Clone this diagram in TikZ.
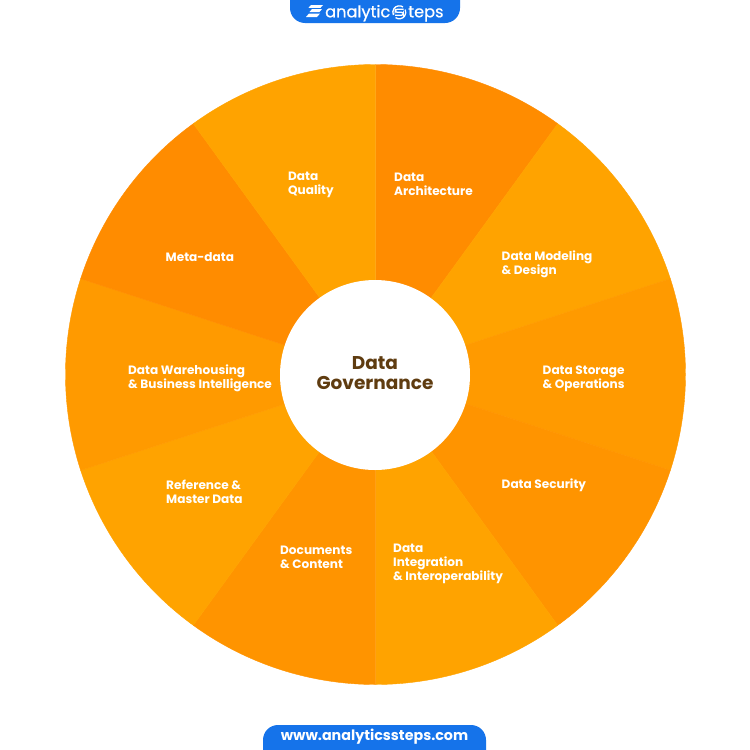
\documentclass[tikz,border=0pt]{standalone}
\usepackage{fontspec}
\setmainfont{Poppins}
\definecolor{oa}{HTML}{FF8C00}
\definecolor{od}{HTML}{FF9400}
\definecolor{ob}{HTML}{FFA300}
\definecolor{oc}{HTML}{FF9A00}
\definecolor{brownt}{HTML}{5F3C10}
\definecolor{blueb}{HTML}{1573EA}
\tikzset{
  seglabel/.style={text=white,font=\fontsize{12.1}{14}\selectfont\bfseries,inner sep=0pt,anchor=west},
  logotext/.style={text=white,font=\fontsize{16.2}{17}\selectfont\addfontfeature{FakeBold=0.7},inner sep=0pt,anchor=base west},
}
\newcommand{\wedgeat}[3]{\filldraw[fill=#3,draw=#3,line width=0.4pt] (375.5,-374.5) -- ++(#1:310) arc[start angle=#1,end angle=#2,radius=310] -- cycle;}
\begin{document}
\begin{tikzpicture}[x=1pt,y=1pt]
\useasboundingbox (0,-750) rectangle (750,0);
\fill[white] (0,-750) rectangle (750,0);
\wedgeat{54}{90}{oa}
\wedgeat{18}{54}{ob}
\wedgeat{-18}{18}{oc}
\wedgeat{-54}{-18}{od}
\wedgeat{-90}{-54}{ob}
\wedgeat{-126}{-90}{od}
\wedgeat{-162}{-126}{ob}
\wedgeat{-198}{-162}{oc}
\wedgeat{-234}{-198}{oa}
\wedgeat{-270}{-234}{ob}
\node[circle,fill=white,minimum size=190pt,inner sep=0pt] (hub) at (375,-375) {};
\node[inner sep=0pt,align=center,text=brownt,font=\fontsize{18.5}{19.5}\selectfont\bfseries] (hubtext) at (375,-373) {Data\\Governance};
\node[seglabel,align=left] (a1) at (394,-184.5) {Data\\Architecture};
\node[seglabel,align=left] (a2) at (501.5,-264.5) {Data Modeling\\\& Design};
\node[seglabel,align=left] (a3) at (542.5,-378.5) {Data Storage\\\& Operations};
\node[seglabel,align=left] (a4) at (501.5,-485) {Data Security};
\node[seglabel,align=left] (a5) at (393,-564) {Data\\Integration\\\& Interoperability};
\node[seglabel,align=left] (a6) at (280,-557.5) {Documents\\\& Content};
\node[seglabel,align=left] (a7) at (166,-492) {Reference \&\\Master Data};
\node[seglabel,align=left] (a8) at (128,-378.5) {Data Warehousing\\\& Business Intelligence};
\node[seglabel,align=left] (a9) at (165.5,-257) {Meta-data};
\node[seglabel,align=left] (a10) at (288,-184.5) {Data\\Quality};
% top badge
\fill[blueb] (290,0) -- (460,0) -- (460,-8) arc[start angle=0,end angle=-90,radius=15] -- (305,-23) arc[start angle=270,end angle=180,radius=15] -- cycle;
\fill[white] (311,-5) -- (323,-5) -- (320.5,-7.8) -- (308.5,-7.8) -- cycle;
\fill[white] (312,-9) -- (322,-9) -- (319.5,-12) -- (309.5,-12) -- cycle;
\fill[white] (309,-13.5) -- (320,-13.5) -- (317,-17) -- (306,-17) -- cycle;
\node[logotext] (lg1) at (325,-17.3) {analytic};
\node[logotext] (lg3) at (408,-17.3) {teps};
\coordinate (lgc) at (399.3,-12.3);
\draw[white,line width=1.3pt] ([shift={(55:6.5)}]lgc) arc[start angle=55,end angle=205,radius=6.5];
\draw[white,line width=1.3pt] ([shift={(235:6.5)}]lgc) arc[start angle=235,end angle=385,radius=6.5];
\draw[white,line width=1.3pt,rounded corners=2pt] ([shift={(4.2,3)}]lgc) -- ([shift={(-4,3)}]lgc) -- ([shift={(-4,0)}]lgc) -- ([shift={(4,0)}]lgc) -- ([shift={(4,-3)}]lgc) -- ([shift={(-4.2,-3)}]lgc);
% bottom badge
\fill[blueb] (263,-750) -- (263,-740) arc[start angle=180,end angle=90,radius=15] -- (471,-725) arc[start angle=90,end angle=0,radius=15] -- (486,-750) -- cycle;
\node[text=white,font=\fontsize{14.3}{16}\selectfont\bfseries,inner sep=0pt] (url) at (374.5,-736.5) {www.analyticssteps.com};
\end{tikzpicture}
\end{document}
